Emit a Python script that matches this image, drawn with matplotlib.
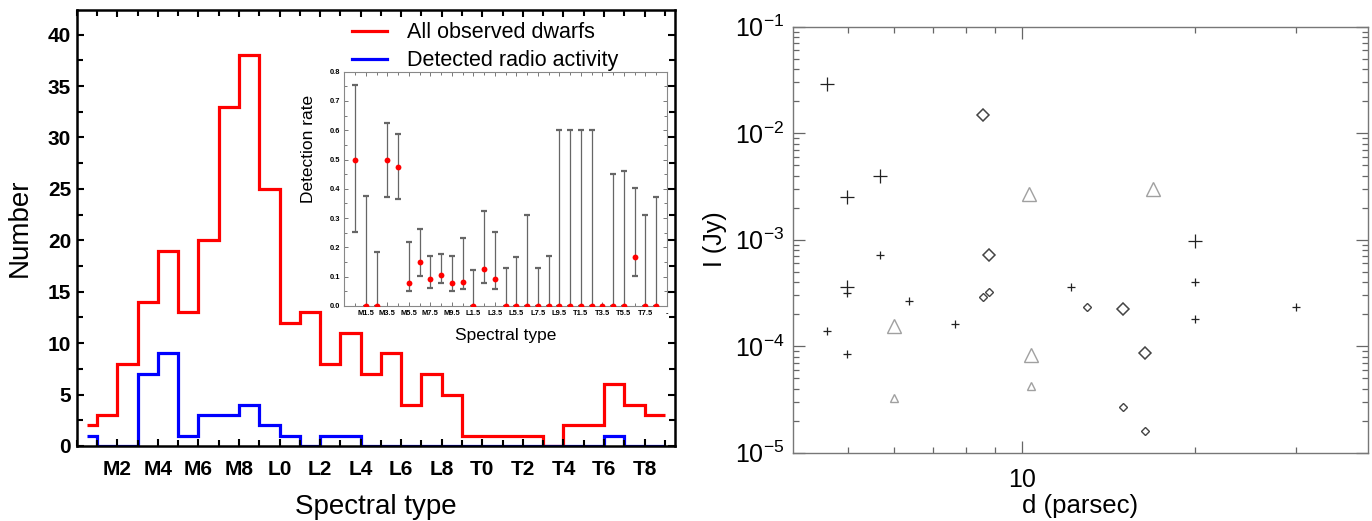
import numpy as np
import matplotlib
matplotlib.use('Agg')
import matplotlib.pyplot as plt
from matplotlib.ticker import MultipleLocator, LogLocator, NullFormatter

plt.rcParams['font.family'] = ['Liberation Sans', 'DejaVu Sans']
plt.rcParams['mathtext.fontset'] = 'custom'
plt.rcParams['mathtext.rm'] = 'Liberation Sans'
plt.rcParams['mathtext.default'] = 'regular'

# --- left panel: number of dwarfs per spectral subtype (M0.5 ... T8) ---
bin_edges = [0.5] + list(range(1, 30))
all_dwarfs = [2, 3, 8, 14, 19, 13, 20, 33, 38, 25, 12, 13, 8, 11, 7,
              9, 4, 7, 5, 1, 1, 1, 1, 0, 2, 2, 6, 4, 3]
radio_detected = [1, 0, 0, 7, 9, 1, 3, 3, 4, 2, 1, 0, 1, 1, 0,
                  0, 0, 0, 0, 0, 0, 0, 0, 0, 0, 0, 1, 0, 0]
main_ticks = [2, 4, 6, 8, 10, 12, 14, 16, 18, 20, 22, 24, 26, 28]
main_labels = ['M2', 'M4', 'M6', 'M8', 'L0', 'L2', 'L4', 'L6', 'L8',
               'T0', 'T2', 'T4', 'T6', 'T8']

# --- inset: detection rate with confidence limits (M0.5 ... T8.5) ---
rate_x = np.arange(29) + 0.5
det_rate = [0.5, 0, 0, 0.5, 0.474, 0.077, 0.15, 0.091, 0.105, 0.08, 0.083, 0,
            0.125, 0.091, 0, 0, 0, 0, 0, 0, 0, 0, 0, 0, 0, 0, 0.167, 0, 0]
det_low = [0.254, 0, 0, 0.373, 0.365, 0.052, 0.103, 0.062, 0.077, 0.05, 0.058, 0,
           0.08, 0.059, 0, 0, 0, 0, 0, 0, 0, 0, 0, np.nan, 0, 0, 0.103, 0, 0]
det_high = [0.753, 0.376, 0.185, 0.625, 0.588, 0.217, 0.264, 0.169, 0.178, 0.171,
            0.231, 0.122, 0.324, 0.252, 0.128, 0.168, 0.311, 0.13, 0.169, 0.602,
            0.602, 0.602, 0.602, np.nan, 0.452, 0.462, 0.402, 0.31, 0.372]
inset_ticks = [1.5, 3.5, 5.5, 7.5, 9.5, 11.5, 13.5, 15.5, 17.5, 19.5,
               21.5, 23.5, 25.5, 27.5, 29.5]
inset_labels = ['M1.5', 'M3.5', 'M5.5', 'M7.5', 'M9.5', 'L1.5', 'L3.5', 'L5.5',
                'L7.5', 'L9.5', 'T1.5', 'T3.5', 'T5.5', 'T7.5', '-']

# --- right panel: flux vs distance ---
plus_big_d = [4.59, 4.98, 5.68, 4.98, 20.0]
plus_big_I = [2.9e-2, 2.54e-3, 4.0e-3, 3.62e-4, 9.8e-4]
plus_small_d = [5.68, 4.98, 6.38, 4.59, 4.98, 7.67, 12.2, 20.0, 20.0, 30.0]
plus_small_I = [7.2e-4, 3.18e-4, 2.67e-4, 1.39e-4, 8.4e-5, 1.61e-4,
                3.62e-4, 4.04e-4, 1.81e-4, 2.32e-4]
diam_big_d = [8.58, 8.78, 15.0, 16.4]
diam_big_I = [1.48e-2, 7.15e-4, 2.23e-4, 8.7e-5]
diam_small_d = [8.58, 8.78, 13.0, 15.0, 16.4]
diam_small_I = [2.92e-4, 3.25e-4, 2.32e-4, 2.7e-5, 1.6e-5]
tri_big_d = [6.0, 10.28, 10.38, 16.9]
tri_big_I = [1.55e-4, 2.67e-3, 8.2e-5, 2.97e-3]
tri_small_d = [6.0, 10.38]
tri_small_I = [3.29e-5, 4.26e-5]

fig = plt.figure(figsize=(13.72, 5.21), dpi=100)

# ---------------- histogram ----------------
ax1 = fig.add_axes([0.0559, 0.144, 0.4361, 0.8369])
ax1.stairs(all_dwarfs, bin_edges, baseline=None, color='red', lw=2.3,
           label='All observed dwarfs')
ax1.stairs(radio_detected, bin_edges, baseline=None, color='blue', lw=2.3,
           label='Detected radio activity')
ax1.set_xlim(0, 29.5)
ax1.set_ylim(0, 42.4)
ax1.set_xticks(main_ticks, main_labels)
ax1.xaxis.set_minor_locator(MultipleLocator(1))
ax1.yaxis.set_major_locator(MultipleLocator(5))
ax1.yaxis.set_minor_locator(MultipleLocator(2.5))
ax1.tick_params(which='both', direction='in', top=True, right=True, width=1.5)
ax1.tick_params(which='major', length=5, labelsize=15)
ax1.tick_params(which='minor', length=4)
ax1.tick_params(axis='x', which='major', pad=10)
ax1.tick_params(axis='y', which='major', pad=4)
for lab in ax1.get_xticklabels() + ax1.get_yticklabels():
    lab.set_fontweight('bold')
for sp in ax1.spines.values():
    sp.set_linewidth(1.8)
ax1.set_xlabel('Spectral type', fontsize=20, va='center')
ax1.xaxis.set_label_coords(0.5, -0.14)
ax1.set_ylabel('Number', fontsize=20, va='center')
ax1.yaxis.set_label_coords(-0.095, 0.5)
ax1.legend(loc='upper left', bbox_to_anchor=(0.46, 0.972), frameon=False,
           fontsize=15.5, borderpad=0, borderaxespad=0, handlelength=1.63,
           handletextpad=0.93, labelspacing=0.34)

# ---------------- inset ----------------
ins = fig.add_axes([0.2510, 0.4127, 0.2350, 0.4497])
rate = np.array(det_rate)
err = [rate - np.array(det_low), np.array(det_high) - rate]
eb = ins.errorbar(rate_x, rate, yerr=err, fmt='none', ecolor='#666666',
                  elinewidth=0.9, capsize=2.5, capthick=1.6)
for cap in eb[1]:
    cap.set_color('black')
ins.plot(rate_x, rate, 'o', color='red', ms=4.2, mec='none', zorder=4)
ins.set_xlim(-0.5, 29.5)
ins.set_ylim(0, 0.8)
ins.set_xticks(inset_ticks, inset_labels)
ins.xaxis.set_minor_locator(MultipleLocator(1, offset=0.5))
ins.yaxis.set_major_locator(MultipleLocator(0.1))
ins.yaxis.set_minor_locator(MultipleLocator(0.05))
ins.yaxis.set_major_formatter(lambda v, p: '%.1f' % v)
ins.tick_params(which='both', direction='in', top=True, right=True,
                color='#777777', width=0.7, labelsize=5.4)
ins.tick_params(which='major', length=3)
ins.tick_params(which='minor', length=2)
ins.tick_params(axis='x', pad=3)
ins.tick_params(axis='y', pad=3)
for lab in ins.get_xticklabels() + ins.get_yticklabels():
    lab.set_fontweight('bold')
for sp in ins.spines.values():
    sp.set_color('#888888')
    sp.set_linewidth(0.8)
ins.set_xlabel('Spectral type', fontsize=12.5, va='center')
ins.xaxis.set_label_coords(0.5, -0.124)
ins.set_ylabel('Detection rate', fontsize=12.5, va='center')
ins.yaxis.set_label_coords(-0.11, 0.67)

# ---------------- flux vs distance ----------------
ax2 = fig.add_axes([0.5778, 0.1311, 0.4193, 0.8177])
ax2.set_xscale('log')
ax2.set_yscale('log')
ax2.plot(plus_big_d, plus_big_I, ls='none', marker='+', ms=9.5, mew=0.9,
         color='#222222')
ax2.plot(plus_small_d, plus_small_I, ls='none', marker='+', ms=5.2, mew=0.9,
         color='#222222')
ax2.plot(diam_big_d, diam_big_I, ls='none', marker='D', ms=6.6, mew=1.1,
         mfc='none', mec='#444444')
ax2.plot(diam_small_d, diam_small_I, ls='none', marker='D', ms=3.6, mew=1.0,
         mfc='none', mec='#444444')
ax2.plot(tri_big_d, tri_big_I, ls='none', marker='^', ms=10.5, mew=1.0,
         mfc='none', mec='#a0a0a0')
ax2.plot(tri_small_d, tri_small_I, ls='none', marker='^', ms=5.2, mew=1.0,
         mfc='none', mec='#a0a0a0')
ax2.set_xlim(4, 40)
ax2.set_ylim(1e-5, 1e-1)
ax2.set_xticks([10], ['10'])
ax2.set_xticks([5, 6, 7, 8, 9, 20, 30], minor=True)
ax2.xaxis.set_minor_formatter(NullFormatter())
ax2.yaxis.set_major_locator(LogLocator(base=10, numticks=10))
ax2.yaxis.set_minor_locator(LogLocator(base=10, subs=np.arange(2, 10), numticks=20))
ax2.yaxis.set_minor_formatter(NullFormatter())
ax2.tick_params(which='both', direction='in', top=True, right=True,
                color='#666666', width=0.9, labelsize=18)
ax2.tick_params(which='major', length=8.5)
ax2.tick_params(which='minor', length=4.5)
ax2.tick_params(axis='x', pad=11)
ax2.tick_params(axis='y', pad=6)
for sp in ax2.spines.values():
    sp.set_color('#777777')
    sp.set_linewidth(1.0)
ax2.set_xlabel('d (parsec)', fontsize=18.5, va='center')
ax2.xaxis.set_label_coords(0.5, -0.125)
ax2.set_ylabel('I (Jy)', fontsize=18, va='center')
ax2.yaxis.set_label_coords(-0.135, 0.5)

fig.savefig('out.png', dpi=100)
